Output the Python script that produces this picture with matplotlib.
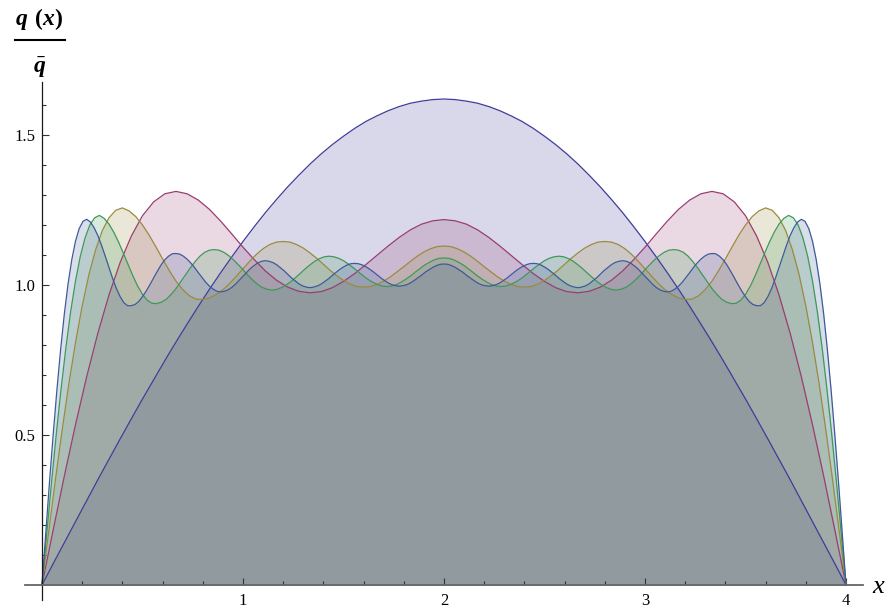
import numpy as np
import matplotlib
matplotlib.use('Agg')
import matplotlib.pyplot as plt
from matplotlib.lines import Line2D
from matplotlib.ticker import FixedLocator

plt.rcParams['font.family'] = ['Liberation Serif', 'DejaVu Serif']
plt.rcParams['mathtext.fontset'] = 'custom'
plt.rcParams['mathtext.it'] = 'Liberation Serif:italic:bold'
plt.rcParams['mathtext.rm'] = 'Liberation Serif:bold'

q1 = [0, 0.071, 0.141, 0.211, 0.281, 0.351, 0.419, 0.487, 0.554, 0.620, 0.684, 0.748,
      0.810, 0.870, 0.929, 0.986, 1.041, 1.094, 1.145, 1.194, 1.241, 1.285, 1.327, 1.366,
      1.403, 1.437, 1.468, 1.496, 1.522, 1.545, 1.564, 1.581, 1.595, 1.606, 1.613, 1.618,
      1.620,
      1.618, 1.613, 1.606, 1.595, 1.581, 1.564, 1.545, 1.522, 1.496, 1.468, 1.437, 1.403,
      1.366, 1.327, 1.285, 1.241, 1.194, 1.145, 1.094, 1.041, 0.986, 0.929, 0.870, 0.810,
      0.748, 0.684, 0.620, 0.554, 0.487, 0.419, 0.351, 0.281, 0.211, 0.141, 0.071, 0]

q2 = [0, 0.183, 0.363, 0.534, 0.694, 0.839, 0.967, 1.075, 1.163, 1.231, 1.277, 1.304,
      1.312, 1.304, 1.283, 1.252, 1.213, 1.170, 1.126, 1.085, 1.047, 1.016, 0.993, 0.979,
      0.974, 0.978, 0.991, 1.012, 1.038, 1.068, 1.099, 1.130, 1.159, 1.184, 1.203, 1.214,
      1.218,
      1.214, 1.203, 1.184, 1.159, 1.130, 1.099, 1.068, 1.038, 1.012, 0.991, 0.978, 0.974,
      0.979, 0.993, 1.016, 1.047, 1.085, 1.126, 1.170, 1.213, 1.252, 1.283, 1.304, 1.312,
      1.304, 1.277, 1.231, 1.163, 1.075, 0.967, 0.839, 0.694, 0.534, 0.363, 0.183, 0]

q3 = [0, 0.177, 0.350, 0.515, 0.669, 0.808, 0.930, 1.034, 1.117, 1.181, 1.224, 1.249, 1.257,
      1.247, 1.228, 1.200, 1.166, 1.127, 1.087, 1.048, 1.013, 0.985, 0.964, 0.953, 0.952,
      0.957, 0.968, 0.984, 1.005, 1.029, 1.054, 1.079, 1.102, 1.121, 1.135, 1.143, 1.145,
      1.143, 1.135, 1.123, 1.107, 1.089, 1.069, 1.049, 1.031, 1.015, 1.003, 0.995, 0.993,
      0.995, 1.002, 1.013, 1.027, 1.044, 1.061, 1.079, 1.096, 1.110, 1.121, 1.128, 1.130,
      1.128, 1.121, 1.110, 1.096, 1.079, 1.061, 1.044, 1.027, 1.013, 1.002, 0.995, 0.993,
      0.995, 1.003, 1.015, 1.031, 1.049, 1.069, 1.089, 1.107, 1.123, 1.135, 1.143, 1.145,
      1.143, 1.135, 1.121, 1.102, 1.079, 1.054, 1.029, 1.005, 0.984, 0.968, 0.957, 0.952,
      0.953, 0.964, 0.985, 1.013, 1.048, 1.087, 1.127, 1.166, 1.200, 1.228, 1.247, 1.257,
      1.249, 1.224, 1.181, 1.117, 1.034, 0.930, 0.808, 0.669, 0.515, 0.350, 0.177, 0]

q4 = [0, 0.173, 0.343, 0.505, 0.655, 0.792, 0.912, 1.013, 1.095, 1.157, 1.200, 1.224, 1.232,
      1.222, 1.203, 1.176, 1.143, 1.106, 1.068, 1.030, 0.996, 0.969, 0.949, 0.939, 0.938,
      0.943, 0.953, 0.969, 0.988, 1.011, 1.034, 1.057, 1.078, 1.096, 1.109, 1.116, 1.118,
      1.116, 1.109, 1.098, 1.084, 1.068, 1.051, 1.033, 1.017, 1.003, 0.992, 0.986, 0.983,
      0.985, 0.991, 1.000, 1.011, 1.025, 1.039, 1.054, 1.067, 1.079, 1.088, 1.094, 1.096,
      1.094, 1.089, 1.081, 1.070, 1.058, 1.045, 1.032, 1.020, 1.010, 1.002, 0.997, 0.995,
      0.996, 1.001, 1.009, 1.019, 1.030, 1.043, 1.055, 1.067, 1.076, 1.084, 1.089, 1.090,
      1.089, 1.084, 1.076, 1.067, 1.055, 1.043, 1.030, 1.019, 1.009, 1.001, 0.996, 0.995,
      0.997, 1.002, 1.010, 1.020, 1.032, 1.045, 1.058, 1.070, 1.081, 1.089, 1.094, 1.096,
      1.094, 1.088, 1.079, 1.067, 1.054, 1.039, 1.025, 1.011, 1.000, 0.991, 0.985, 0.983,
      0.986, 0.992, 1.003, 1.017, 1.033, 1.051, 1.068, 1.084, 1.098, 1.109, 1.116, 1.118,
      1.116, 1.109, 1.096, 1.078, 1.057, 1.034, 1.011, 0.988, 0.969, 0.953, 0.943, 0.938,
      0.939, 0.949, 0.969, 0.996, 1.030, 1.068, 1.106, 1.143, 1.176, 1.203, 1.222, 1.232,
      1.224, 1.200, 1.157, 1.095, 1.013, 0.912, 0.792, 0.655, 0.505, 0.343, 0.173, 0]

q5 = [0, 0.172, 0.340, 0.500, 0.649, 0.784, 0.903, 1.003, 1.084, 1.146, 1.188, 1.212, 1.219,
      1.210, 1.191, 1.165, 1.132, 1.096, 1.058, 1.021, 0.988, 0.961, 0.941, 0.931, 0.931,
      0.935, 0.945, 0.961, 0.980, 1.001, 1.024, 1.046, 1.067, 1.084, 1.096, 1.104, 1.105,
      1.103, 1.096, 1.086, 1.073, 1.058, 1.041, 1.025, 1.009, 0.996, 0.986, 0.979, 0.977,
      0.979, 0.984, 0.992, 1.003, 1.016, 1.029, 1.042, 1.055, 1.065, 1.074, 1.079, 1.081,
      1.079, 1.075, 1.068, 1.058, 1.048, 1.036, 1.024, 1.014, 1.004, 0.997, 0.993, 0.991,
      0.993, 0.997, 1.003, 1.012, 1.021, 1.032, 1.042, 1.052, 1.060, 1.067, 1.071, 1.072,
      1.071, 1.067, 1.061, 1.053, 1.044, 1.034, 1.024, 1.015, 1.007, 1.001, 0.998, 0.996,
      0.998, 1.001, 1.007, 1.015, 1.024, 1.033, 1.043, 1.051, 1.059, 1.065, 1.069, 1.070,
      1.069, 1.065, 1.059, 1.051, 1.043, 1.033, 1.024, 1.015, 1.007, 1.001, 0.998, 0.996,
      0.998, 1.001, 1.007, 1.015, 1.024, 1.034, 1.044, 1.053, 1.061, 1.067, 1.071, 1.072,
      1.071, 1.067, 1.060, 1.052, 1.042, 1.032, 1.021, 1.012, 1.003, 0.997, 0.993, 0.991,
      0.993, 0.997, 1.004, 1.014, 1.024, 1.036, 1.048, 1.058, 1.068, 1.075, 1.079, 1.081,
      1.079, 1.074, 1.065, 1.055, 1.042, 1.029, 1.016, 1.003, 0.992, 0.984, 0.979, 0.977,
      0.979, 0.986, 0.996, 1.009, 1.025, 1.041, 1.058, 1.073, 1.086, 1.096, 1.103, 1.105,
      1.104, 1.096, 1.084, 1.067, 1.046, 1.024, 1.001, 0.980, 0.961, 0.945, 0.935, 0.931,
      0.931, 0.941, 0.961, 0.988, 1.021, 1.058, 1.096, 1.132, 1.165, 1.191, 1.210, 1.219,
      1.212, 1.188, 1.146, 1.084, 1.003, 0.903, 0.784, 0.649, 0.500, 0.340, 0.172, 0]

curves = [q1, q2, q3, q4, q5]
line_colors = ['#3f3d99', '#993d71', '#998b3d', '#3d9956', '#3d5a99']

x_ticks = [1, 2, 3, 4]
x_tick_labels = ['1', '2', '3', '4']
y_ticks = [0.5, 1.0, 1.5]
y_tick_labels = ['0.5', '1.0', '1.5']

W, H = 888, 611


def fig_xy(px, py):
    # pixel position (origin top-left) -> figure fraction
    return px / W, 1 - py / H


fig = plt.figure(figsize=(W / 100, H / 100), dpi=100, facecolor='white')
ax = fig.add_axes([24.9 / W, 11 / H, 838.2 / W, 518.1 / H])
ax.set_facecolor('none')

#--------------------CURVES-------------------
for q, c in zip(curves, line_colors):
    x = np.linspace(0, 4, len(q))
    ax.fill_between(x, q, 0, color=c, alpha=0.2, lw=0, zorder=1)
for q, c in zip(curves, line_colors):
    x = np.linspace(0, 4, len(q))
    ax.plot(x, q, color=c, lw=0.9, zorder=2, solid_joinstyle='round')

ax.set_xlim(-0.085, 4.085)
ax.set_ylim(-0.05, 1.677)

#--------------------AXES CUSTOMIZATION-------------------
ax.spines['top'].set_visible(False)
ax.spines['right'].set_visible(False)
ax.spines['left'].set_position(('data', 0))
ax.spines['bottom'].set_position(('data', 0))
ax.spines['left'].set_color('#1a1a1a')
ax.spines['left'].set_linewidth(0.9)
ax.spines['bottom'].set_color('#666666')
ax.spines['bottom'].set_linewidth(1.3)
ax.spines['left'].set_zorder(3)
ax.spines['bottom'].set_zorder(3)

ax.xaxis.set_major_locator(FixedLocator(x_ticks))
ax.xaxis.set_minor_locator(FixedLocator([v for v in np.arange(0.2, 4.0, 0.2) if abs(v - round(v)) > 1e-6]))
ax.yaxis.set_major_locator(FixedLocator(y_ticks))
ax.yaxis.set_minor_locator(FixedLocator([v for v in np.arange(0.1, 1.65, 0.1) if abs(v * 2 - round(v * 2)) > 1e-6]))
ax.set_xticklabels(x_tick_labels)
ax.set_yticklabels(y_tick_labels)

ax.tick_params(which='both', direction='in', color='#333333', width=0.8, labelsize=12, labelcolor='black')
ax.tick_params(which='major', length=5)
ax.tick_params(which='minor', length=3)
ax.tick_params(axis='x', pad=6)
ax.tick_params(axis='y', pad=4.5)

#--------------------LABELS-------------------
ax.text(4.133, -0.028, 'x', fontsize=19, fontstyle='italic', ha='left', va='baseline', clip_on=False)

fx, fy = fig_xy(15, 25)
fig.text(fx, fy, r'$q\;\,\mathrm{(}x\mathrm{)}$', fontsize=17, ha='left', va='baseline')
fx, fy = fig_xy(40, 73)
fig.text(fx, fy, r'$\bar{q}$', fontsize=17, ha='center', va='baseline')
x0, yb = fig_xy(15, 39.5)
x1, _ = fig_xy(65, 39.5)
fig.add_artist(Line2D([x0, x1], [yb, yb], transform=fig.transFigure, color='black', lw=1.5))

fig.savefig('out.png', dpi=100, facecolor='white')
